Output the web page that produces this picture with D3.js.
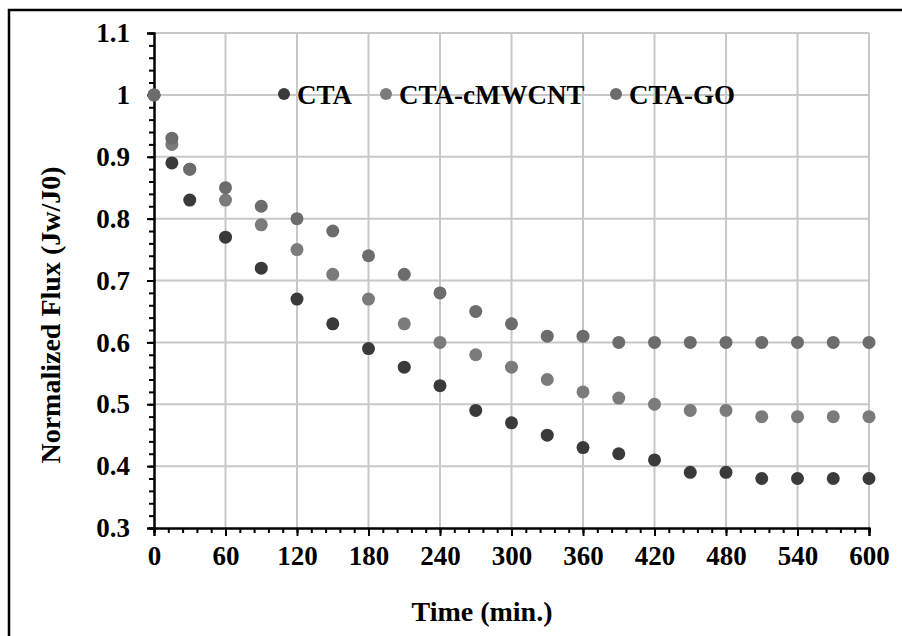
<!DOCTYPE html>
<html>
<head>
<meta charset="utf-8">
<script src="https://cdn.jsdelivr.net/npm/d3@7"></script>
<style>
  body { margin: 0; background: #fff; }
  svg text { font-family: "Liberation Serif", "Times New Roman", serif; font-weight: bold; fill: #000; }
</style>
</head>
<body>
<div id="vis"></div>
<script>
// time points (min.)
const times = [0, 15, 30, 60, 90, 120, 150, 180, 210, 240, 270, 300, 330, 360, 390, 420, 450, 480, 510, 540, 570, 600];

// normalized flux
const ctaFlux = [1, 0.89, 0.83, 0.77, 0.72, 0.67, 0.63, 0.59, 0.56, 0.53, 0.49, 0.47, 0.45, 0.43, 0.42, 0.41, 0.39, 0.39, 0.38, 0.38, 0.38, 0.38];
const cmwcntFlux = [1, 0.92, 0.88, 0.83, 0.79, 0.75, 0.71, 0.67, 0.63, 0.60, 0.58, 0.56, 0.54, 0.52, 0.51, 0.50, 0.49, 0.49, 0.48, 0.48, 0.48, 0.48];
const goFlux = [1, 0.93, 0.88, 0.85, 0.82, 0.80, 0.78, 0.74, 0.71, 0.68, 0.65, 0.63, 0.61, 0.61, 0.60, 0.60, 0.60, 0.60, 0.60, 0.60, 0.60, 0.60];

const seriesNames = ["CTA", "CTA-cMWCNT", "CTA-GO"];
const seriesColors = ["#3a3a3a", "#7b7b7b", "#6c6c6c"];

const xTicks = [0, 60, 120, 180, 240, 300, 360, 420, 480, 540, 600];
const yTicks = [0.3, 0.4, 0.5, 0.6, 0.7, 0.8, 0.9, 1.0, 1.1];

const width = 902, height = 636;
const svg = d3.select("#vis").append("svg")
  .attr("width", width)
  .attr("height", height);

const x = d3.scaleLinear().domain([0, 600]).range([154, 869]);
const y = d3.scaleLinear().domain([0.3, 1.1]).range([528, 33]);

// outer frame (only top and left edges show)
svg.append("path")
  .attr("d", `M9,${height} L9,10 L${width},10`)
  .attr("fill", "none")
  .attr("stroke", "#000")
  .attr("stroke-width", 2.5);

// gridlines
const grid = svg.append("g").attr("stroke", "#c8c8c8").attr("stroke-width", 2);
grid.selectAll(".hg")
  .data(yTicks.slice(1))
  .enter().append("line")
  .attr("x1", x(0)).attr("x2", x(600))
  .attr("y1", d => y(d)).attr("y2", d => y(d));
grid.selectAll(".vg")
  .data(xTicks.slice(1))
  .enter().append("line")
  .attr("y1", y(0.3)).attr("y2", y(1.1))
  .attr("x1", d => x(d)).attr("x2", d => x(d));

// axes with minor ticks
const yMinor = d3.range(0.3, 1.1001, 0.02);
const xMinor = d3.range(0, 600.1, 12);

const yAxis = svg.append("g")
  .attr("transform", `translate(${x(0)},0)`)
  .call(d3.axisLeft(y).tickValues(yMinor).tickSize(5).tickFormat(""));
yAxis.append("g")
  .call(d3.axisLeft(y).tickValues(yTicks).tickSize(7).tickPadding(17)
    .tickFormat(d => String(+d.toFixed(1))));

const xAxis = svg.append("g")
  .attr("transform", `translate(0,${y(0.3)})`)
  .call(d3.axisBottom(x).tickValues(xMinor).tickSize(5).tickFormat(""));
xAxis.append("g")
  .call(d3.axisBottom(x).tickValues(xTicks).tickSize(8).tickPadding(10));

svg.selectAll(".domain").attr("stroke", "#000").attr("stroke-width", 2);
svg.selectAll(".tick line").attr("stroke", "#000").attr("stroke-width", 2);
svg.selectAll(".tick text")
  .style("font-family", "'Liberation Serif', serif")
  .style("font-weight", "bold")
  .style("font-size", "27px")
  .attr("fill", "#000");

// axis titles
svg.append("text")
  .attr("x", 482).attr("y", 621)
  .attr("text-anchor", "middle")
  .style("font-size", "28px")
  .text("Time (min.)");

svg.append("text")
  .attr("transform", "translate(60,315) rotate(-90)")
  .attr("text-anchor", "middle")
  .style("font-size", "28px")
  .text("Normalized Flux (Jw/J0)");

// points
const allSeries = [ctaFlux, cmwcntFlux, goFlux];
allSeries.forEach((vals, i) => {
  svg.append("g").selectAll("circle")
    .data(times.map((t, j) => ({ t: t, v: vals[j] })))
    .enter().append("circle")
    .attr("cx", d => x(d.t))
    .attr("cy", d => y(d.v))
    .attr("r", 6.5)
    .attr("fill", seriesColors[i]);
});

// legend
const legendX = [284, 386, 616];
const legend = svg.append("g");
seriesNames.forEach((name, i) => {
  legend.append("circle")
    .attr("cx", legendX[i]).attr("cy", 94)
    .attr("r", 6)
    .attr("fill", seriesColors[i]);
  legend.append("text")
    .attr("x", legendX[i] + 13).attr("y", 104)
    .style("font-size", "27px")
    .text(name);
});
</script>
</body>
</html>
